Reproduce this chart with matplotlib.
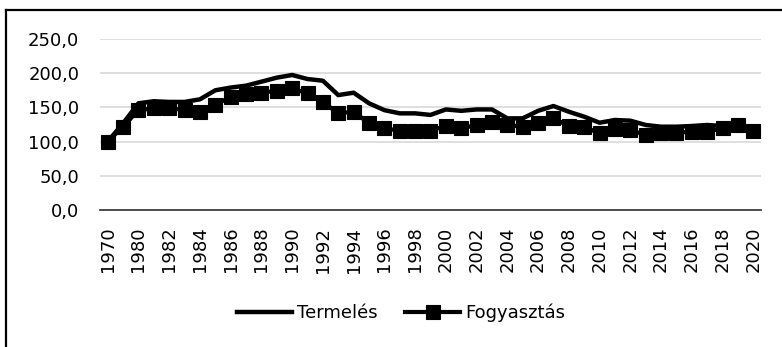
import matplotlib.pyplot as plt
import numpy as np
from matplotlib.lines import Line2D

years = ["1970", "1975"] + [str(y) for y in range(1980, 2021)]

termeles = [100.0, 126.7, 156.0, 159.0, 158.0, 158.0, 161.8, 175.0, 179.0, 181.8,
            187.6, 193.5, 197.4, 191.5, 189.0, 168.0, 171.5, 156.0, 146.0, 141.3,
            141.3, 139.0, 147.0, 145.0, 147.0, 147.0, 134.0, 134.0, 145.0, 152.0,
            143.7, 136.4, 127.6, 131.6, 130.6, 124.3, 121.8, 121.8, 122.8, 124.3,
            122.8, 125.7, 110.0]

fogyasztas = [100.0, 121.8, 146.0, 148.6, 149.0, 146.0, 143.7, 153.5, 165.7, 169.0,
              171.5, 174.4, 177.8, 170.6, 158.0, 141.3, 143.7, 126.7, 119.4, 116.0,
              116.0, 116.0, 122.8, 119.4, 124.3, 128.0, 124.3, 121.8, 127.6, 134.0,
              122.8, 121.8, 112.0, 118.0, 117.0, 109.6, 113.0, 113.0, 114.5, 114.5,
              119.4, 124.3, 116.0]

yticks = [0, 50, 100, 150, 200, 250]

fig = plt.figure(figsize=(7.82, 3.47), dpi=100)
plt.rcParams['font.family'] = ['DejaVu Sans']
ax = fig.add_axes([0.1279, 0.3948, 0.9731 - 0.1279, 0.8876 - 0.3948])

x = np.arange(len(years))
ax.plot(x, termeles, color='black', linewidth=3.2, solid_joinstyle='round', label='Termelés', zorder=3)
ax.plot(x, fogyasztas, color='black', linewidth=3, marker='s', markersize=10.5,
        markeredgewidth=0.8, label='Fogyasztás', zorder=4)

ax.set_xlim(-0.5, len(years) - 0.5)
ax.set_ylim(0, 250)
ax.set_yticks(yticks)
ax.set_yticklabels([("%.1f" % v).replace('.', ',') for v in yticks], fontsize=13)
ax.set_xticks(x[::2])
ax.set_xticklabels(years[::2], rotation=90, fontsize=13)
ax.tick_params(axis='both', length=0)
ax.tick_params(axis='x', pad=12)
ax.tick_params(axis='y', pad=15)

ax.grid(axis='y', color='#d9d9d9', linewidth=1.2, zorder=0)
for s in ['top', 'right', 'left']:
    ax.spines[s].set_visible(False)
ax.spines['bottom'].set_color('#404040')
ax.spines['bottom'].set_linewidth(1.3)
ax.set_axisbelow(True)

fig.legend(loc='center', bbox_to_anchor=(0.513, 0.098), ncol=2, frameon=False,
           fontsize=13, handlelength=3.05, handletextpad=0.3, columnspacing=1.5)

# outer chart border
fig.add_artist(Line2D([6 / 782, 6 / 782], [0, 1 - 10 / 347], color='black', linewidth=1.6,
                      transform=fig.transFigure))
fig.add_artist(Line2D([6 / 782, 1], [1 - 10 / 347, 1 - 10 / 347], color='black', linewidth=1.6,
                      transform=fig.transFigure))

plt.savefig("out.png", dpi=100)
